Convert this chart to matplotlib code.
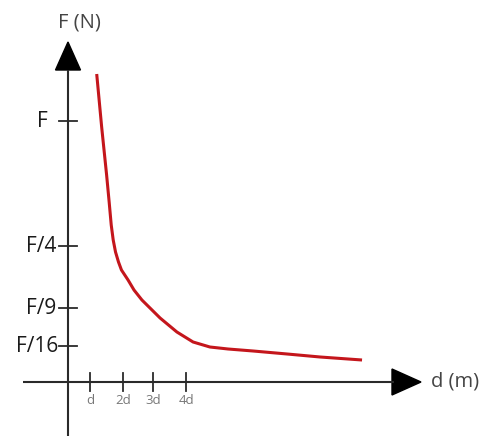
import matplotlib
matplotlib.use("Agg")
import matplotlib.pyplot as plt
from matplotlib.patches import Polygon

# data (abstract units)
curve_x = [0.87, 1.02, 1.17, 1.25, 1.31, 1.37, 1.44, 1.53, 1.62, 1.82, 2.00, 2.24, 2.79,
           3.30, 3.79, 4.30, 4.85, 5.61, 6.64, 7.64, 8.91]
curve_y = [30.8, 25.5, 20.7, 17.9, 15.7, 14.2, 13.0, 12.0, 11.2, 10.2, 9.2, 8.2, 6.4,
           5.0, 4.0, 3.5, 3.3, 3.1, 2.8, 2.5, 2.2]
x_ticks = [0.67, 1.67, 2.58, 3.58]
x_labels = ["d", "2d", "3d", "4d"]
y_ticks = [26.1, 13.6, 7.4, 3.6]
y_labels = ["F", "F/4", "F/9", "F/16"]

plt.rcParams['font.family'] = ['Open Sans', 'DejaVu Sans']

fig = plt.figure(figsize=(4.97, 4.43), dpi=100)
ax = fig.add_axes([0, 0, 1, 1])
ax.axis('off')
sx, sy = 1 / 33, 1 / 10  # data units per pixel
ax.set_xlim(-68 * sx, (497 - 68) * sx)
ax.set_ylim(-(443 - 382) * sy, 382 * sy)

axc = '#2a2a2a'
# axes lines
x_left, x_right = -45 * sx, 326 * sx
y_bot, y_top = -54 * sy, 312 * sy
ax.plot([x_left, x_right], [0, 0], color=axc, lw=1.5, solid_capstyle='butt')
ax.plot([0, 0], [y_bot, y_top], color=axc, lw=1.5, solid_capstyle='butt')
# arrowheads
ax.add_patch(Polygon([(324 * sx, 13 * sy), (324 * sx, -13 * sy), (353 * sx, 0)],
                     closed=True, color='black'))
ax.add_patch(Polygon([(-12.5 * sx, y_top), (12.5 * sx, y_top), (0, 340 * sy)],
                     closed=True, color='black'))

# ticks
label_pad = [20, 12, 12, 10]
for v, lab, pad in zip(y_ticks, y_labels, label_pad):
    ax.plot([-9 * sx, 9 * sx], [v, v], color=axc, lw=1.3)
    ax.text(-pad * sx, v, lab, ha='right', va='center', fontsize=15, color='#1a1a1a')
for v, lab in zip(x_ticks, x_labels):
    ax.plot([v, v], [-9 * sy, 9 * sy], color=axc, lw=1.3)
    ax.text(v, -19 * sy, lab, ha='center', va='center', fontsize=9.5, color='#777777')

# axis titles
ax.text(11 * sx, 360 * sy, "F (N)", ha='center', va='center', fontsize=14.5, color='#444444')
ax.text(363 * sx, 1 * sy, "d (m)", ha='left', va='center', fontsize=14.5, color='#444444')

# curve
ax.plot(curve_x, curve_y, color='#c4161c', lw=2.2, solid_capstyle='butt', solid_joinstyle='round')

fig.savefig('out.png', dpi=100)
